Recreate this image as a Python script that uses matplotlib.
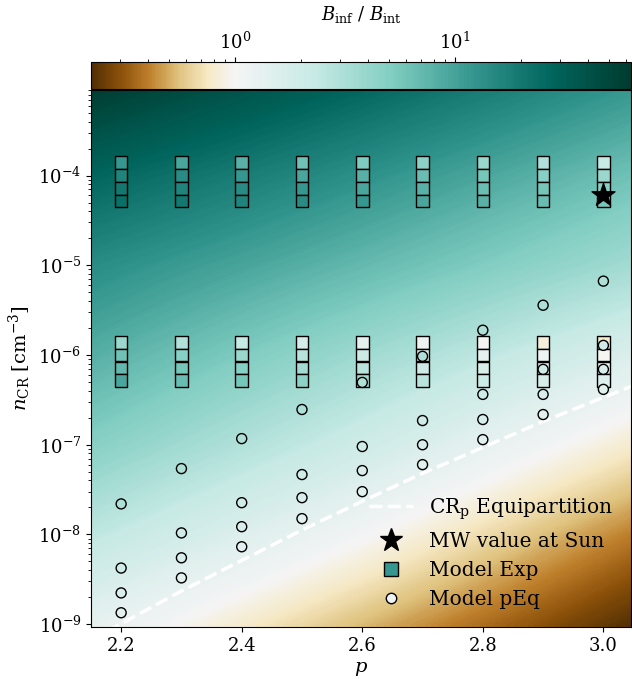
import numpy as np
import matplotlib
matplotlib.use('Agg')
import matplotlib.pyplot as plt
from matplotlib.colors import ListedColormap, Normalize, LogNorm, TwoSlopeNorm
from matplotlib.cm import ScalarMappable
from matplotlib.lines import Line2D

plt.rcParams['font.family'] = 'DejaVu Serif'
plt.rcParams['mathtext.fontset'] = 'dejavuserif'
plt.rcParams['font.size'] = 13

# colour range of log10(B_inf/B_int)
lr_min, lr_max = -0.655, 1.8

# background map: log10(B_inf/B_int) read at a few nodes (rows = log10 n, cols = p)
bg_p = [2.15, 2.6, 3.05]
bg_logn = [-9, -8, -7, -6, -5, -4, -3]
bg_logratio = [[0.12, -0.27, -0.65],
               [0.40, 0.02, -0.40],
               [0.68, 0.30, -0.10],
               [0.92, 0.56, 0.20],
               [1.15, 0.85, 0.54],
               [1.44, 1.12, 0.79],
               [1.80, 1.44, 1.08]]

p_vals = [2.2, 2.3, 2.4, 2.5, 2.6, 2.7, 2.8, 2.9, 3.0]

# Model Exp
exp_n_hi = [1.4e-4, 1.0e-4, 7.2e-5, 5.2e-5]
exp_n_lo = [1.38e-6, 1.0e-6, 7.2e-7, 5.2e-7]
exp_lr_hi = [[1.08, 1.22, 1.30, 1.37],
             [0.97, 1.15, 1.22, 1.30],
             [0.90, 1.08, 1.15, 1.22],
             [0.79, 0.97, 1.08, 1.15],
             [0.72, 0.90, 0.97, 1.08],
             [0.65, 0.83, 0.90, 0.97],
             [0.58, 0.76, 0.83, 0.90],
             [0.47, 0.68, 0.76, 0.83],
             [0.36, 0.58, 0.68, 0.76]]
exp_lr_lo = [[0.58, 0.79, 0.86, 0.97],
             [0.47, 0.68, 0.76, 0.83],
             [0.36, 0.58, 0.68, 0.76],
             [0.25, 0.43, 0.54, 0.65],
             [0.14, 0.32, 0.43, 0.54],
             [0.07, 0.22, 0.32, 0.43],
             [-0.01, 0.14, 0.22, 0.32],
             [-0.07, 0.07, 0.14, 0.25],
             [-0.10, 0.00, 0.07, 0.18]]

# Model pEq (bottom to top for each p)
peq_n = [[1.34e-9, 2.23e-9, 4.22e-9, 2.19e-8],
         [3.28e-9, 5.49e-9, 1.04e-8, 5.42e-8],
         [7.29e-9, 1.22e-8, 2.26e-8, 1.17e-7],
         [1.50e-8, 2.57e-8, 4.65e-8, 2.47e-7],
         [3.0e-8, 5.15e-8, 9.55e-8, 4.95e-7],
         [6.0e-8, 1.0e-7, 1.86e-7, 9.67e-7],
         [1.14e-7, 1.91e-7, 3.64e-7, 1.89e-6],
         [2.17e-7, 3.64e-7, 6.92e-7, 3.59e-6],
         [4.14e-7, 6.92e-7, 1.28e-6, 6.66e-6]]
peq_lr = [0.15, 0.22, 0.29, 0.49]

# MW value at Sun
mw_p, mw_n = 3.0, 6.1e-5

# CR_p equipartition
eq_p = [2.15, 2.19, 2.3, 2.4, 2.5, 2.6, 2.7, 2.8, 2.9, 3.05]
eq_n = [6.8e-10, 9.3e-10, 2.34e-9, 5.13e-9, 1.12e-8, 2.34e-8, 4.79e-8, 9.33e-8, 1.82e-7, 4.57e-7]

xticks = [2.2, 2.4, 2.6, 2.8, 3.0]
xlim = (2.15, 3.046)
ylim = (9.3e-10, 9.0e-4)

# BrBG centred on 1, uniform in log of the ratio
t = np.linspace(lr_min, lr_max, 256)
v = TwoSlopeNorm(vcenter=0, vmin=lr_min, vmax=lr_max)(t)
cmap = ListedColormap(plt.get_cmap('BrBG')(v))
norm = Normalize(lr_min, lr_max)

fig = plt.figure(figsize=(6.32, 6.79), dpi=100)
rect = [0.144, 0.0766, 0.8546, 0.7909]

# background in (p, log10 n)
ax_bg = fig.add_axes(rect)
dp = bg_p[1] - bg_p[0]
dl = bg_logn[1] - bg_logn[0]
ax_bg.imshow(np.array(bg_logratio), origin='lower', cmap=cmap, norm=norm,
             extent=(bg_p[0] - dp / 2, bg_p[-1] + dp / 2,
                     bg_logn[0] - dl / 2, bg_logn[-1] + dl / 2),
             interpolation='bilinear', interpolation_stage='data', aspect='auto')
ax_bg.set_xlim(xlim)
ax_bg.set_ylim(np.log10(ylim))
ax_bg.axis('off')

ax = fig.add_axes(rect)
ax.patch.set_alpha(0)
ax.set_yscale('log')
ax.set_xlim(xlim)
ax.set_ylim(ylim)
ax.set_xticks(xticks)

ax.plot(eq_p, eq_n, color='white', ls='--', lw=2.5, zorder=2)

for i, p in enumerate(p_vals):
    for ns, lrs in ((exp_n_hi, exp_lr_hi[i]), (exp_n_lo, exp_lr_lo[i])):
        ax.scatter([p] * 4, ns, c=lrs, cmap=cmap, norm=norm, marker='s', s=82,
                   edgecolors='k', linewidths=1, zorder=3)

for i, p in enumerate(p_vals):
    ax.scatter([p] * 4, peq_n[i], c=peq_lr, cmap=cmap, norm=norm, marker='o', s=52,
               edgecolors='k', linewidths=1, zorder=4)

ax.scatter([mw_p], [mw_n], color='k', marker='*', s=300, zorder=5)

ax.set_xlabel(r'$p$', fontsize=14)
ax.set_ylabel(r'$n_\mathrm{CR}$ [cm$^{-3}$]', fontsize=14)

h = [Line2D([], [], color='white', ls='--', lw=2.5),
     Line2D([], [], color='k', marker='*', ms=17, ls='none'),
     Line2D([], [], color=cmap(norm(exp_lr_hi[0][0])), marker='s', ms=9.5,
            mec='k', ls='none'),
     Line2D([], [], color=cmap(norm(0.05)), marker='o', ms=7.5, mec='k', ls='none')]
ax.legend(h, [r'CR$_\mathrm{p}$ Equipartition', 'MW value at Sun', 'Model Exp', 'Model pEq'],
          loc='lower right', frameon=False, handlelength=2.2, labelspacing=0.5,
          fontsize=14.5)

cax = fig.add_axes([0.144, 0.8685, 0.8546, 0.0398])
sm = ScalarMappable(norm=LogNorm(10 ** lr_min, 10 ** lr_max), cmap=cmap)
cb = fig.colorbar(sm, cax=cax, orientation='horizontal')
cax.xaxis.set_ticks_position('top')
cax.xaxis.set_label_position('top')
cb.set_label(r'$B_\mathrm{inf}$ / $B_\mathrm{int}$', labelpad=8)

fig.savefig('out.png', dpi=100)
